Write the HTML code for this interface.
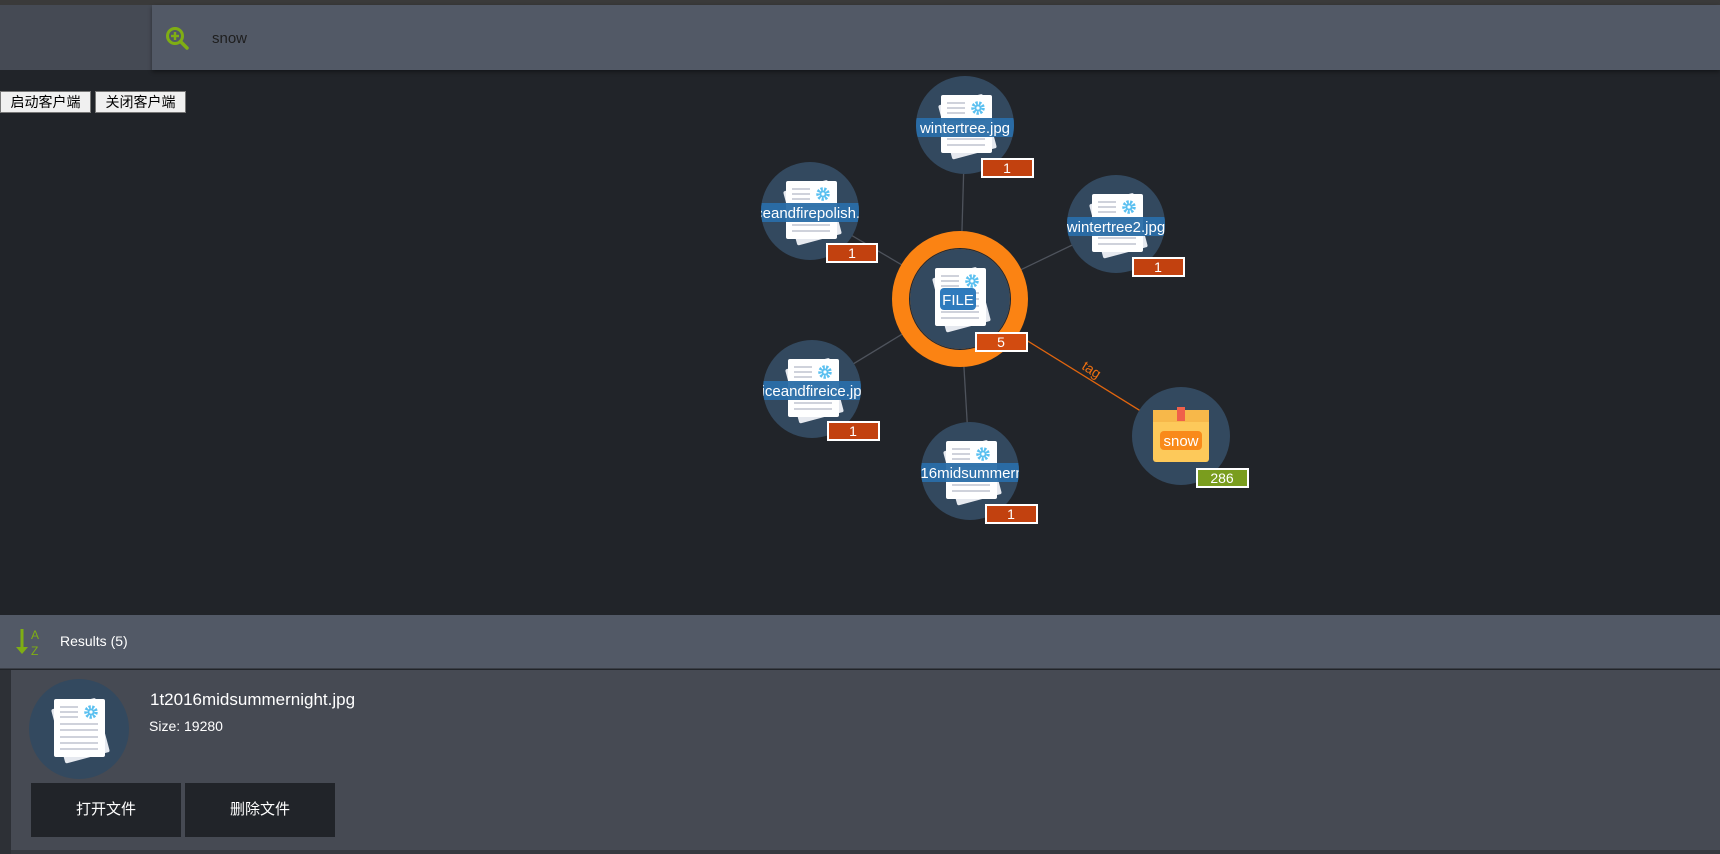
<!DOCTYPE html>
<html><head><meta charset="utf-8"><style>
*{margin:0;padding:0;box-sizing:border-box}
body{width:1720px;height:854px;overflow:hidden;background:#212429;font-family:"Liberation Sans","Noto Sans CJK SC",sans-serif;position:relative}
.a{position:absolute}
.btn{position:absolute;top:91px;height:22px;background:#f0f0f0;border:1px solid #777;font-size:14px;line-height:20px;text-align:center;color:#000}
.ab{position:absolute;top:783px;width:150px;height:54px;background:#212429;color:#fff;font-size:15px;line-height:54px;text-align:center}
</style></head><body>
<div class="a" style="left:0;top:0;width:1720px;height:5px;background:#3a3a3a"></div>
<div class="a" style="left:0;top:5px;width:152px;height:65px;background:#454a54"></div>
<div class="a" style="left:152px;top:5px;width:1568px;height:65px;background:#525966;box-shadow:0 2px 4px rgba(0,0,0,.4)"></div>
<svg class="a" style="left:165px;top:26px" width="26" height="26" viewBox="0 0 26 26"><circle cx="10" cy="10" r="7.5" fill="none" stroke="#7fae14" stroke-width="3"/><line x1="15.5" y1="15.5" x2="22" y2="22" stroke="#7fae14" stroke-width="3.5" stroke-linecap="round"/><line x1="6" y1="10" x2="14" y2="10" stroke="#7fae14" stroke-width="2.4"/><line x1="10" y1="6" x2="10" y2="14" stroke="#7fae14" stroke-width="2.4"/></svg>
<div class="a" style="left:212px;top:30px;font-size:15px;color:#1e1e1e">snow</div>
<div class="btn" style="left:0;width:91px">启动客户端</div>
<div class="btn" style="left:95px;width:91px">关闭客户端</div>

<svg class="a" style="left:0;top:0" width="1720" height="600">
<defs>
<g id="doc">
<rect x="-22" y="-26" width="46" height="56" rx="2" fill="#e6e9ef" transform="rotate(-15)"/>
<rect x="-25" y="-30" width="51" height="58" rx="2" fill="#fff"/>
<g stroke="#c8ccd6" stroke-width="1.8"><line x1="-19" y1="-22" x2="-1" y2="-22"/><line x1="-19" y1="-17" x2="-1" y2="-17"/><line x1="-19" y1="-12" x2="-1" y2="-12"/><line x1="-19" y1="-5" x2="19" y2="-5"/><line x1="-19" y1="1" x2="19" y2="1"/><line x1="-19" y1="8" x2="19" y2="8"/><line x1="-19" y1="14" x2="19" y2="14"/><line x1="-19" y1="20" x2="19" y2="20"/></g>
<circle cx="12" cy="-17" r="5" fill="none" stroke="#5bc0f0" stroke-width="3.5" stroke-dasharray="2.2 1.3"/><circle cx="12" cy="-17" r="3.5" fill="#5bc0f0"/><circle cx="12" cy="-17" r="1.6" fill="#fff"/>
</g>
</defs>
<g stroke="#4e535c" stroke-width="1.3">
<line x1="960" y1="299" x2="965" y2="125"/><line x1="960" y1="299" x2="810" y2="211"/><line x1="960" y1="299" x2="1116" y2="224"/><line x1="960" y1="299" x2="812" y2="389"/><line x1="960" y1="299" x2="970" y2="471"/>
</g>
<line x1="960" y1="299" x2="1181" y2="436" stroke="#e0650f" stroke-width="1.3"/>
<text x="1083" y="369" fill="#f07010" font-size="14" transform="rotate(33 1083 365)" font-family="Liberation Sans,sans-serif">tag</text>

<circle cx="960" cy="299" r="59" fill="#33495f" stroke="#fb8313" stroke-width="18"/>
<circle cx="960" cy="299" r="50.5" fill="none" stroke="#1d2530" stroke-width="1"/>
<use href="#doc" x="960" y="298"/>
<rect x="940" y="288" width="36" height="22" rx="4" fill="#2f7bbd"/>
<text x="958" y="305" fill="#fff" font-size="15" text-anchor="middle" font-family="Liberation Sans,sans-serif">FILE</text>

<g font-family="Liberation Sans,sans-serif" font-size="15" fill="#fff">
<g><circle cx="965" cy="125" r="49" fill="#33495f"/><use href="#doc" x="966" y="125"/><clipPath id="c1"><circle cx="965" cy="125" r="49"/></clipPath><g clip-path="url(#c1)"><rect x="914" y="118" width="102" height="19" fill="#2a6ea8" opacity=".95"/><text x="965" y="133" text-anchor="middle">wintertree.jpg</text></g></g>
<g><circle cx="810" cy="211" r="49" fill="#33495f"/><use href="#doc" x="811" y="211"/><clipPath id="c2"><circle cx="810" cy="211" r="49"/></clipPath><g clip-path="url(#c2)"><rect x="759" y="203" width="102" height="19" fill="#2a6ea8" opacity=".95"/><text x="806" y="218" text-anchor="middle">iceandfirepolish.</text></g></g>
<g><circle cx="1116" cy="224" r="49" fill="#33495f"/><use href="#doc" x="1117" y="224"/><clipPath id="c3"><circle cx="1116" cy="224" r="49"/></clipPath><g clip-path="url(#c3)"><rect x="1065" y="217" width="102" height="19" fill="#2a6ea8" opacity=".95"/><text x="1116" y="232" text-anchor="middle">wintertree2.jpg</text></g></g>
<g><circle cx="812" cy="389" r="49" fill="#33495f"/><use href="#doc" x="813" y="389"/><clipPath id="c4"><circle cx="812" cy="389" r="49"/></clipPath><g clip-path="url(#c4)"><rect x="761" y="381" width="102" height="19" fill="#2a6ea8" opacity=".95"/><text x="812" y="396" text-anchor="middle">tiiceandfireice.jpg</text></g></g>
<g><circle cx="970" cy="471" r="49" fill="#33495f"/><use href="#doc" x="971" y="471"/><clipPath id="c5"><circle cx="970" cy="471" r="49"/></clipPath><g clip-path="url(#c5)"><rect x="919" y="463" width="102" height="19" fill="#2a6ea8" opacity=".95"/><text x="980" y="478" text-anchor="middle">016midsummernight</text></g></g>
<g><circle cx="1181" cy="436" r="49" fill="#33495f"/>
<rect x="1153" y="410" width="56" height="52" rx="3" fill="#fdc95a"/><rect x="1153" y="410" width="56" height="12" fill="#f7b84a"/><rect x="1177" y="407" width="8" height="14" fill="#f0604a"/>
<rect x="1160" y="431" width="42" height="19" rx="4" fill="#f98a1a"/><text x="1181" y="446" text-anchor="middle" font-size="15">snow</text></g>
</g>
<g font-family="Liberation Sans,sans-serif" font-size="14" fill="#fff" text-anchor="middle" stroke-width="2">
<rect x="982" y="159" width="51" height="18" fill="#c2410f" stroke="#fff"/><text x="1007" y="173">1</text>
<rect x="827" y="244" width="50" height="18" fill="#c2410f" stroke="#fff"/><text x="852" y="258">1</text>
<rect x="1133" y="258" width="51" height="18" fill="#c2410f" stroke="#fff"/><text x="1158" y="272">1</text>
<rect x="976" y="333" width="51" height="18" fill="#d24b10" stroke="#fff"/><text x="1001" y="347">5</text>
<rect x="828" y="422" width="51" height="18" fill="#c2410f" stroke="#fff"/><text x="853" y="436">1</text>
<rect x="986" y="505" width="51" height="18" fill="#c2410f" stroke="#fff"/><text x="1011" y="519">1</text>
<rect x="1197" y="469" width="51" height="18" fill="#7a9d1e" stroke="#fff"/><text x="1222" y="483">286</text>
</g>
</svg>

<div class="a" style="left:0;top:615px;width:1720px;height:54px;background:#525966;border-bottom:1px solid #3a3e46"></div>
<svg class="a" style="left:16px;top:627px" width="28" height="30"><line x1="6" y1="2" x2="6" y2="24" stroke="#7fae14" stroke-width="3"/><path d="M0 20 L6 27 L12 20 Z" fill="#7fae14"/><text x="15" y="12" fill="#7fae14" font-size="12" font-family="Liberation Sans,sans-serif">A</text><text x="15" y="28" fill="#7fae14" font-size="12" font-family="Liberation Sans,sans-serif">Z</text></svg>
<div class="a" style="left:60px;top:633px;font-size:14px;color:#fff">Results (5)</div>
<div class="a" style="left:0;top:670px;width:11px;height:184px;background:#2d3036"></div>
<div class="a" style="left:11px;top:670px;width:1709px;height:180px;background:#464a53"></div>
<div class="a" style="left:11px;top:850px;width:1709px;height:4px;background:#363940"></div>
<svg class="a" style="left:29px;top:679px" width="100" height="100"><circle cx="50" cy="50" r="50" fill="#33495f"/><use href="#doc" x="50" y="50"/></svg>
<div class="a" style="left:150px;top:690px;font-size:17px;color:#fff">1t2016midsummernight.jpg</div>
<div class="a" style="left:149px;top:718px;font-size:14px;color:#fff">Size: 19280</div>
<div class="ab" style="left:31px">打开文件</div>
<div class="ab" style="left:185px">删除文件</div>
</body></html>
